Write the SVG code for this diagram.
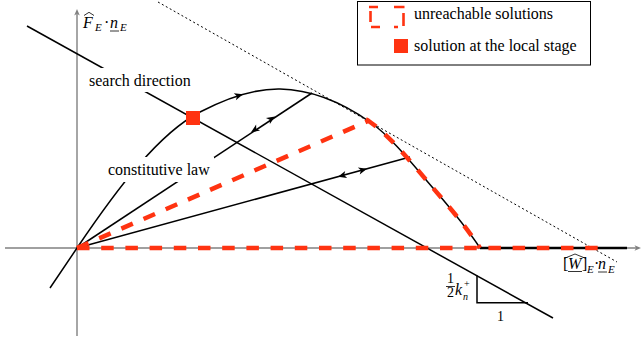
<svg xmlns="http://www.w3.org/2000/svg" xmlns:xlink="http://www.w3.org/1999/xlink" width="642" height="339" viewBox="0 0 642 339">
<style>
.ax{stroke:#808080;stroke-width:1.4;fill:none}
.ln{stroke:#000;stroke-width:1.5;fill:none}
.rd{stroke:#ff3311;stroke-width:4.5;fill:none;stroke-dasharray:12.5 11.7}
.dot{stroke:#000;stroke-width:1;fill:none;stroke-dasharray:2 2.5}
.t{font-family:"Liberation Serif","Times New Roman",serif;font-size:16px;fill:#000}
.m{font-family:"Liberation Serif","Times New Roman",serif;font-style:italic;font-size:16px;fill:#000}
.s{font-family:"Liberation Serif","Times New Roman",serif;font-style:italic;font-size:11px;fill:#000}
</style>
<defs>
<path id="ah" d="M0,0 L-8.5,-3.6 L-6.3,0 L-8.5,3.6 Z" fill="#000"/>
<path id="axh" d="M0,0 L-6.5,-2.8 L-4.8,0 L-6.5,2.8 Z" fill="#808080"/>
</defs>
<rect width="642" height="339" fill="#fff"/>
<g id="axes">
<line class="ax" x1="5" y1="248" x2="637" y2="248"/>
<use xlink:href="#axh" transform="translate(641,248)"/>
<line class="ax" x1="77" y1="336" x2="77" y2="14"/>
<use xlink:href="#axh" transform="translate(77,9) rotate(-90)"/>
</g>
<g id="connectors">
<line class="dot" x1="158" y1="2" x2="617" y2="262"/>
<line class="ln" x1="27" y1="26" x2="553" y2="318"/>
<path class="ln" d="M477,275.5 V302.7 H528"/>
<path class="ln" d="M50,288 L77,248 C118,187.3 159,133.3 200,112 C226.7,98.1 253.3,88.5 280,89 C310,89.6 340,101 370,122 C391,136.7 412,163.4 433,188 C448.7,206.3 464.3,224.2 480,248"/>
<use xlink:href="#ah" transform="translate(243,94.3) rotate(-17)"/>
<line class="ln" x1="77" y1="248" x2="312" y2="93"/>
<use xlink:href="#ah" transform="translate(275,116.4) rotate(-33.4)"/>
<use xlink:href="#ah" transform="translate(251,132.2) rotate(146.6)"/>
<line class="ln" x1="77" y1="248" x2="410" y2="157"/>
<use xlink:href="#ah" transform="translate(367,168.7) rotate(-15.3)"/>
<use xlink:href="#ah" transform="translate(338,176.7) rotate(164.7)"/>
<line x1="480" y1="248" x2="627" y2="248" stroke="#000" stroke-width="2.6"/>
<line class="rd" x1="77" y1="248" x2="598" y2="248"/>
<line class="rd" x1="77" y1="248" x2="368" y2="121"/>
<path class="rd" d="M366,119.4 C368,120 369,121 370,122 C391,136.7 412,163.4 433,188 C448.7,206.3 464.3,224.2 480,248"/>
</g>
<g id="label-search">
<rect x="84" y="68" width="112" height="24" fill="#fff"/>
<text class="t" x="89" y="86">search direction</text>
</g>
<g id="label-law">
<rect x="104" y="157" width="110" height="25" fill="#fff"/>
<text class="t" x="108" y="175">constitutive law</text>
</g>
<g id="local-solution">
<rect x="186" y="111" width="14" height="14" fill="#ff3311"/>
</g>
<g id="slope-label">
<text class="t" x="447" y="283" style="font-size:14px">1</text>
<line x1="446" y1="286.5" x2="455" y2="286.5" stroke="#000" stroke-width="0.8"/>
<text class="t" x="447" y="297" style="font-size:14px">2</text>
<text class="m" x="455" y="295">k</text>
<text class="s" x="463" y="300" style="font-size:10px">n</text>
<text x="464" y="287" style="font-family:'Liberation Serif',serif;font-size:10px">+</text>
<text class="t" x="497" y="321" style="font-size:14px">1</text>
</g>
<g id="y-label">
<path d="M84,15.5 L89,12.3 L94,15.5" fill="none" stroke="#000" stroke-width="0.8"/>
<text class="m" x="83" y="28">F</text>
<text class="s" x="95" y="31">E</text>
<text class="t" x="104" y="28">·</text>
<text class="m" x="110" y="28">n</text>
<line x1="110" y1="31" x2="119" y2="31" stroke="#000" stroke-width="0.8"/>
<text class="s" x="120" y="31">E</text>
</g>
<g id="x-label">
<path d="M564,258.5 L575,254 L586,258.5" fill="none" stroke="#000" stroke-width="0.8"/>
<text class="t" x="563" y="269">[</text>
<text class="m" x="568" y="269">W</text>
<line x1="568" y1="271.5" x2="582" y2="271.5" stroke="#000" stroke-width="0.8"/>
<text class="t" x="582" y="269">]</text>
<text class="s" x="587" y="273">E</text>
<text class="t" x="594" y="269">·</text>
<text class="m" x="598" y="269">n</text>
<line x1="598" y1="272" x2="607" y2="272" stroke="#000" stroke-width="0.8"/>
<text class="s" x="608" y="273">E</text>
</g>
<g id="legend">
<rect x="357.5" y="1.5" width="233" height="63.5" fill="#fff" stroke="#000" stroke-width="1"/>
<path d="M369,7 H378 M370.5,11 V22 M371,27 H380 M394,7 H404.5 M403.5,13 V26 M394,27 H398" fill="none" stroke="#ff3311" stroke-width="2.6"/>
<text class="t" x="414" y="19">unreachable solutions</text>
<rect x="394" y="39" width="14" height="14" fill="#ff3311"/>
<text class="t" x="414" y="51">solution at the local stage</text>
</g>
</svg>
